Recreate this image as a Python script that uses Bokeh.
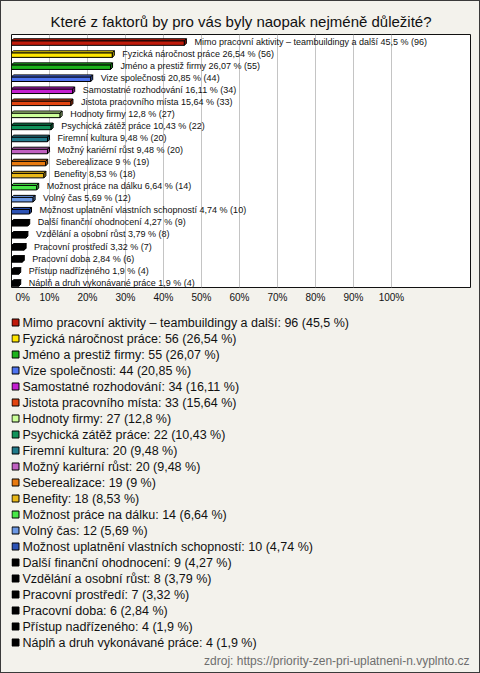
from bokeh.plotting import figure
from bokeh.layouts import column
from bokeh.models import Range1d, FixedTicker, ColumnDataSource
from bokeh.core.properties import value
from bokeh.embed import file_html
from bokeh.resources import INLINE

title_text = "Které z faktorů by pro vás byly naopak nejméně důležité?"
source_note = "zdroj: https://priority-zen-pri-uplatneni-n.vyplnto.cz"

categories = [
    "Mimo pracovní aktivity – teambuildingy a další",
    "Fyzická náročnost práce",
    "Jméno a prestiž firmy",
    "Vize společnosti",
    "Samostatné rozhodování",
    "Jistota pracovního místa",
    "Hodnoty firmy",
    "Psychická zátěž práce",
    "Firemní kultura",
    "Možný kariérní růst",
    "Seberealizace",
    "Benefity",
    "Možnost práce na dálku",
    "Volný čas",
    "Možnost uplatnění vlastních schopností",
    "Další finanční ohodnocení",
    "Vzdělání a osobní růst",
    "Pracovní prostředí",
    "Pracovní doba",
    "Přístup nadřízeného",
    "Náplň a druh vykonávané práce",
]
counts = [96, 56, 55, 44, 34, 33, 27, 22, 20, 20, 19, 18, 14, 12, 10, 9, 8, 7, 6, 4, 4]
percents = [45.5, 26.54, 26.07, 20.85, 16.11, 15.64, 12.8, 10.43, 9.48, 9.48, 9,
            8.53, 6.64, 5.69, 4.74, 4.27, 3.79, 3.32, 2.84, 1.9, 1.9]
colors = ["#c01a0a", "#ffe600", "#1cb31c", "#4f74f0", "#c41fd0", "#e24410",
          "#ccff99", "#10925a", "#207a8a", "#c060c0", "#e87a10", "#e8b818",
          "#48e848", "#6c98e4", "#2c52b4", "#000000", "#000000", "#000000",
          "#000000", "#000000", "#000000"]
tick_values = [0, 10, 20, 30, 40, 50, 60, 70, 80, 90, 100]

FONT_NAME = "Liberation Sans"
FONT = value(FONT_NAME)
BG = "#f3f2ec"


def fmt(v):
    return f"{v:g}".replace(".", ",")


def darker(hexcol, f=0.7):
    r, g, b = int(hexcol[1:3], 16), int(hexcol[3:5], 16), int(hexcol[5:7], 16)
    return "#%02x%02x%02x" % (int(r * f), int(g * f), int(b * f))


n = len(categories)
rows = list(range(n))

# ---------------- top figure: bars ----------------
W = 478
H1 = 309
ML, MR = 10, 9
FRAME_W = W - ML - MR
x_end = 120.8
px_x = x_end / FRAME_W
px_y = 1 / 12.05

p1 = figure(width=W, height=H1, output_backend="svg", toolbar_location=None,
            x_range=Range1d(0, x_end), y_range=Range1d(start=n - 0.5, end=-0.5),
            x_axis_location="below", y_axis_location=None,
            min_border_left=ML, min_border_right=MR, min_border_top=33,
            min_border_bottom=23)
p1.background_fill_color = "white"
p1.border_fill_color = BG
p1.outline_line_color = "#111111"
p1.outline_line_width = 1

p1.title.text = title_text
p1.title.align = "center"
p1.title.text_font = FONT_NAME
p1.title.text_font_size = "15px"
p1.title.text_font_style = "normal"
p1.title.text_color = "#111111"
p1.title.standoff = 9

ax = p1.xaxis[0]
ax.ticker = FixedTicker(ticks=tick_values)
overrides = {t: f"{t}%" for t in tick_values}
overrides[0] = "\u00a0" * 5 + "0%"
ax.major_label_overrides = overrides
ax.axis_line_color = None
ax.major_tick_line_color = None
ax.minor_tick_line_color = None
ax.major_tick_out = 0
ax.major_tick_in = 0
ax.major_label_standoff = 4
ax.major_label_text_font = FONT_NAME
ax.major_label_text_font_size = "10px"
ax.major_label_text_color = "#111111"

p1.xgrid.ticker = FixedTicker(ticks=tick_values)
p1.xgrid.grid_line_color = "#c4c4c4"
p1.ygrid.grid_line_color = None

dx = 2 * px_x
dy = 2 * px_y
y_top = [r + 0.02 for r in rows]
y_bot = [r + 0.40 for r in rows]

front = ColumnDataSource(dict(left=[0] * n, right=percents, top=y_top, bottom=y_bot,
                              color=colors))
p1.quad(left="left", right="right", top="top", bottom="bottom", source=front,
        fill_color="color", line_color="black", line_width=1)

top_xs = [[0, v, v + dx, dx] for v in percents]
top_ys = [[t, t, t - dy, t - dy] for t in y_top]
p1.patches(xs=top_xs, ys=top_ys, fill_color=colors, line_color="black", line_width=1)

side_xs = [[v, v + dx, v + dx, v] for v in percents]
side_ys = [[t, t - dy, b - dy, b] for t, b in zip(y_top, y_bot)]
p1.patches(xs=side_xs, ys=side_ys, fill_color=[darker(c) for c in colors],
           line_color="black", line_width=1)

bar_labels = [f"{c} {fmt(v)} % ({k})" for c, v, k in zip(categories, percents, counts)]
lab = ColumnDataSource(dict(x=percents, y=[r + 0.1 for r in rows], text=bar_labels))
p1.text(x="x", y="y", text="text", source=lab, x_offset=10,
        text_font=FONT, text_font_size="9px", text_baseline="middle",
        text_align="left", text_color="#111111")

# ---------------- bottom figure: legend ----------------
H2 = 362
spacing = 16
first = 12
y_start = (H2 - first) / spacing
y_endv = -first / spacing
L2, R2 = 9, 9

p2 = figure(width=W, height=H2, output_backend="svg", toolbar_location=None,
            x_range=Range1d(L2, W - R2), y_range=Range1d(start=y_start, end=y_endv),
            x_axis_location=None, y_axis_location=None,
            min_border_left=L2, min_border_right=R2,
            min_border_top=0, min_border_bottom=0)
p2.background_fill_color = BG
p2.border_fill_color = BG
p2.outline_line_color = None
p2.xgrid.grid_line_color = None
p2.ygrid.grid_line_color = None

legend_labels = [f"{c}: {k} ({fmt(v)} %)" for c, v, k in zip(categories, percents, counts)]
leg = ColumnDataSource(dict(x=[13] * n, tx=[20] * n, y=rows, color=colors, text=legend_labels))
p2.scatter(x="x", y="y", source=leg, marker="square", size=7,
           fill_color="color", line_color="black", line_width=1)
p2.text(x="tx", y="y", text="text", source=leg, text_font=FONT,
        text_font_size="12.5px", text_baseline="middle", text_align="left",
        text_color="#111111")

p2.text(x=[W - 10], y=[(350 - first) / spacing], text=[source_note], text_font=FONT,
        text_font_size="12px", text_baseline="middle", text_align="right",
        text_color="#6e6e6e")

layout = column(p1, p2, spacing=0,
                styles={"border": "1px solid #3a3a3a", "background-color": BG})

open("out.html", "w").write(file_html(layout, INLINE))
